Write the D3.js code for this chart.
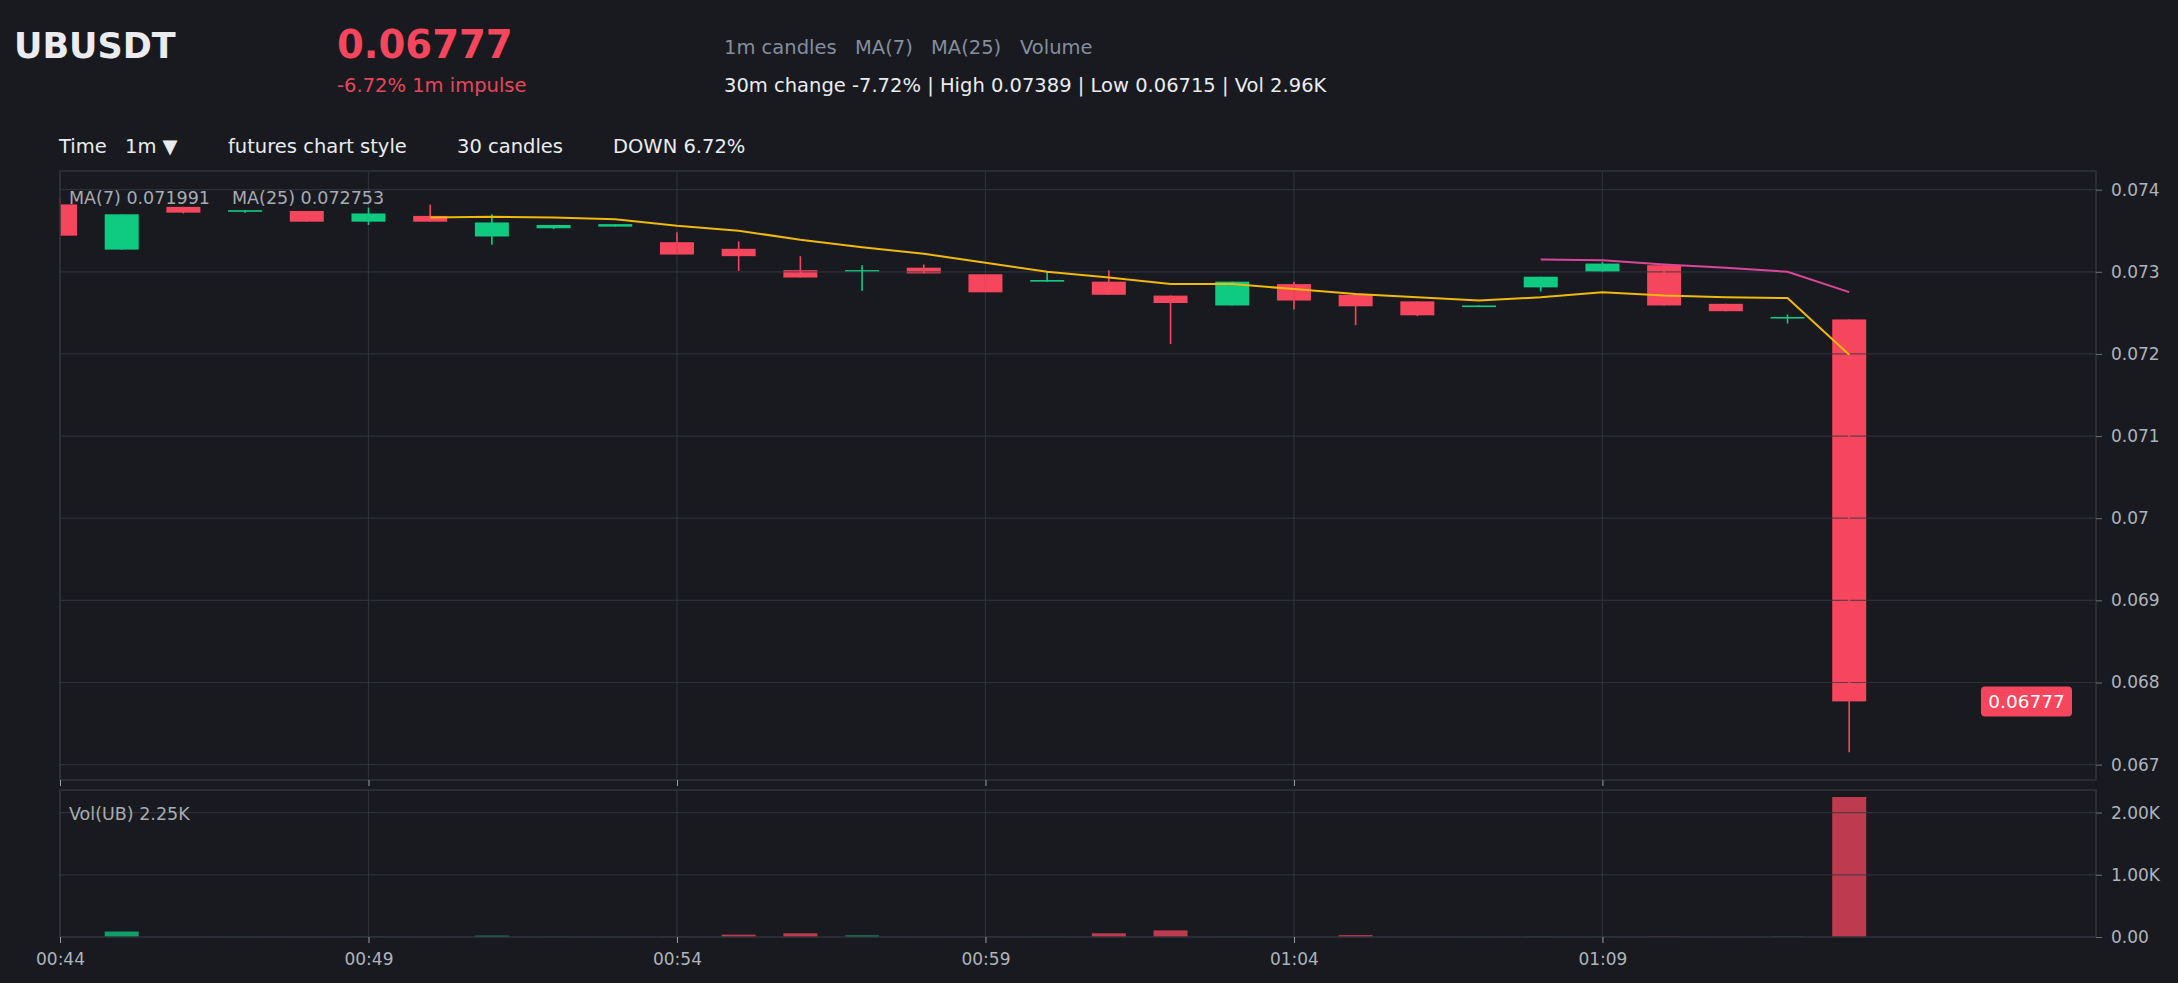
<!DOCTYPE html>
<html>
<head>
<meta charset="utf-8">
<title>UBUSDT 1m</title>
<script src="https://cdn.jsdelivr.net/npm/d3@7"></script>
<style>
  html, body { margin: 0; padding: 0; background: #181a20; }
  svg { display: block; font-family: "DejaVu Sans", sans-serif; }
</style>
</head>
<body>
<svg id="chart" width="2178" height="983"></svg>
<script>
// 1m candles
var times = ["00:44", "00:45", "00:46", "00:47", "00:48", "00:49", "00:50", "00:51", "00:52", "00:53",
             "00:54", "00:55", "00:56", "00:57", "00:58", "00:59", "01:00", "01:01", "01:02", "01:03",
             "01:04", "01:05", "01:06", "01:07", "01:08", "01:09", "01:10", "01:11", "01:12", "01:13"];
var opens  = [0.07382, 0.07327, 0.07379, 0.07373, 0.07374, 0.07361, 0.07368, 0.07343, 0.07353, 0.07355,
              0.07336, 0.07328, 0.07302, 0.07300, 0.07305, 0.07297, 0.07288, 0.07288, 0.07271, 0.07259,
              0.07285, 0.07272, 0.07264, 0.07257, 0.07281, 0.07300, 0.07308, 0.07261, 0.07244, 0.07242];
var highs  = [0.07389, 0.07370, 0.07379, 0.07375, 0.07374, 0.07378, 0.07382, 0.07370, 0.07357, 0.07358,
              0.07348, 0.07337, 0.07319, 0.07308, 0.07309, 0.07297, 0.07300, 0.07302, 0.07271, 0.07288,
              0.07288, 0.07272, 0.07264, 0.07259, 0.07294, 0.07312, 0.07308, 0.07261, 0.07248, 0.07242];
var lows   = [0.07343, 0.07327, 0.07371, 0.07372, 0.07361, 0.07357, 0.07361, 0.07333, 0.07352, 0.07355,
              0.07321, 0.07301, 0.07293, 0.07277, 0.07298, 0.07275, 0.07288, 0.07272, 0.07212, 0.07259,
              0.07254, 0.07235, 0.07246, 0.07257, 0.07276, 0.07300, 0.07259, 0.07252, 0.07237, 0.06715];
var closes = [0.07344, 0.07370, 0.07372, 0.07375, 0.07361, 0.07371, 0.07361, 0.07360, 0.07357, 0.07358,
              0.07321, 0.07319, 0.07293, 0.07302, 0.07298, 0.07275, 0.07290, 0.07272, 0.07262, 0.07288,
              0.07265, 0.07258, 0.07247, 0.07259, 0.07294, 0.07310, 0.07259, 0.07252, 0.07245, 0.06777];
var volumes = [3, 88, 3, 2, 3, 4, 3, 22, 3, 2,
               4, 38, 60, 25, 3, 4, 3, 60, 106, 3,
               2, 30, 3, 2, 4, 3, 6, 3, 6, 2250];

// moving averages as drawn (null where not plotted)
var ma7  = [null, null, null, null, null, null, 0.07366, 0.07367, 0.07366, 0.07364,
            0.07356, 0.07350, 0.07339, 0.07330, 0.07322, 0.07311, 0.07300, 0.07293, 0.07285, 0.07285,
            0.07279, 0.07273, 0.07269, 0.07265, 0.07269, 0.07275, 0.07271, 0.07269, 0.07268, 0.071991];
var ma25 = [null, null, null, null, null, null, null, null, null, null,
            null, null, null, null, null, null, null, null, null, null,
            null, null, null, null, 0.07315, 0.07314, 0.07309, 0.07305, 0.07300, 0.072753];

var priceTicks = [0.067, 0.068, 0.069, 0.07, 0.071, 0.072, 0.073, 0.074];
var volTicks = [0, 1000, 2000];
var volTickLabels = ["0.00", "1.00K", "2.00K"];
var timeTicks = ["00:44", "00:49", "00:54", "00:59", "01:04", "01:09"];

var lastPrice = "0.06777";
var rangeHigh = 0.07389;
var rangeLow = 0.06715;

// colours
var UP = "#0ecb81", DOWN = "#f6465d";
var GRID = "rgba(52,56,64,0.75)";
var TEXT = "#eaecef", MUTED = "#848e9c", AXIS = "#aeb4bc";

var svg = d3.select("#chart");
svg.append("rect").attr("width", 2178).attr("height", 983).attr("fill", "#181a20");

// Pane geometry
var left = 60, right = 2096;
var mainTop = 171, mainBottom = 780;
var volTop = 790, volBottom = 937;

var parseTime = d3.timeParse("%H:%M");
var dates = times.map(parseTime);

var x = d3.scaleTime()
    .domain([dates[0], d3.timeMinute.offset(dates[dates.length - 1], 4)])
    .range([left, right]);

var pad = (rangeHigh - rangeLow) * 0.05;
var y = d3.scaleLinear()
    .domain([rangeLow - pad, rangeHigh + pad])
    .range([mainBottom, mainTop]);

var yVol = d3.scaleLinear()
    .domain([0, d3.max(volumes) * 1.05])
    .range([volBottom, volTop]);

var candleW = 34;

// clip paths so the first candle is cut at the pane edge
var defs = svg.append("defs");
defs.append("clipPath").attr("id", "clipMain").append("rect")
    .attr("x", left).attr("y", mainTop).attr("width", right - left).attr("height", mainBottom - mainTop);
defs.append("clipPath").attr("id", "clipVol").append("rect")
    .attr("x", left).attr("y", volTop).attr("width", right - left).attr("height", volBottom - volTop);

var candles = times.map(function(t, i) {
  return { date: dates[i], o: opens[i], h: highs[i], l: lows[i], c: closes[i], v: volumes[i] };
});

// ---- main pane ----
var main = svg.append("g").attr("clip-path", "url(#clipMain)");

main.selectAll("rect.body")
  .data(candles)
  .enter().append("rect")
    .attr("class", "body")
    .attr("x", function(d) { return x(d.date) - candleW / 2; })
    .attr("y", function(d) { return y(Math.max(d.o, d.c)); })
    .attr("width", candleW)
    .attr("height", function(d) { return Math.max(1.6, Math.abs(y(d.o) - y(d.c))); })
    .attr("fill", function(d) { return d.c >= d.o ? UP : DOWN; });

// grid sits on top of the bodies, like the reference
var grid = svg.append("g");
grid.selectAll("line.hgrid")
  .data(priceTicks)
  .enter().append("line")
    .attr("x1", left).attr("x2", right)
    .attr("y1", function(d) { return y(d); }).attr("y2", function(d) { return y(d); })
    .attr("stroke", GRID).attr("stroke-width", 1.2);

var tickDates = timeTicks.map(parseTime);
grid.selectAll("line.vgrid")
  .data(tickDates)
  .enter().append("line")
    .attr("x1", function(d) { return x(d); }).attr("x2", function(d) { return x(d); })
    .attr("y1", mainTop).attr("y2", mainBottom)
    .attr("stroke", GRID).attr("stroke-width", 1.2);

var main2 = svg.append("g").attr("clip-path", "url(#clipMain)");
main2.selectAll("line.wick")
  .data(candles)
  .enter().append("line")
    .attr("x1", function(d) { return x(d.date); }).attr("x2", function(d) { return x(d.date); })
    .attr("y1", function(d) { return y(d.h); }).attr("y2", function(d) { return y(d.l); })
    .attr("stroke", function(d) { return d.c >= d.o ? UP : DOWN; })
    .attr("stroke-width", 1.6);

// moving average lines
function maLine(values) {
  return d3.line()
    .defined(function(d) { return d != null; })
    .x(function(d, i) { return x(dates[i]); })
    .y(function(d) { return y(d); })(values);
}
main2.append("path").attr("d", maLine(ma7))
    .attr("fill", "none").attr("stroke", "#f0b90b").attr("stroke-width", 2);
main2.append("path").attr("d", maLine(ma25))
    .attr("fill", "none").attr("stroke", "#d9479b").attr("stroke-width", 2);

// pane border
svg.append("rect")
    .attr("x", left).attr("y", mainTop).attr("width", right - left).attr("height", mainBottom - mainTop)
    .attr("fill", "none").attr("stroke", "#2f333b").attr("stroke-width", 1.5);

// price axis
var yAxis = d3.axisRight(y)
    .tickValues(priceTicks)
    .tickFormat(function(d) { return String(d); })
    .tickSize(6).tickPadding(9);
var yAxisG = svg.append("g").attr("transform", "translate(" + right + ",0)").call(yAxis);
yAxisG.select(".domain").remove();
yAxisG.selectAll("line").attr("stroke", "#6b717a");
yAxisG.selectAll("text").attr("fill", AXIS).attr("font-size", 17)
    .attr("font-family", "DejaVu Sans, sans-serif");

// ticks under the main pane
var xTicksMain = d3.axisBottom(x).tickValues(tickDates).tickSize(6).tickFormat("");
var xtm = svg.append("g").attr("transform", "translate(0," + mainBottom + ")").call(xTicksMain);
xtm.select(".domain").remove();
xtm.selectAll("line").attr("stroke", "#9aa0a8");

// MA legend
svg.append("text").attr("x", 69).attr("y", 204)
    .attr("fill", "#a7abb2").attr("font-size", 17.5)
    .text("MA(7) " + ma7[ma7.length - 1]);
svg.append("text").attr("x", 232).attr("y", 204)
    .attr("fill", "#a7abb2").attr("font-size", 17.5)
    .text("MA(25) " + ma25[ma25.length - 1]);

// last price tag
var lastY = y(closes[closes.length - 1]);
svg.append("rect")
    .attr("x", 1981).attr("y", lastY - 15).attr("width", 91).attr("height", 30).attr("rx", 4)
    .attr("fill", DOWN);
svg.append("text")
    .attr("x", 2026.5).attr("y", lastY)
    .attr("dy", "0.35em").attr("text-anchor", "middle")
    .attr("fill", "#ffffff").attr("font-size", 18.5)
    .text(lastPrice);

// ---- volume pane ----
var vol = svg.append("g").attr("clip-path", "url(#clipVol)");
vol.selectAll("rect.vol")
  .data(candles)
  .enter().append("rect")
    .attr("x", function(d) { return x(d.date) - candleW / 2; })
    .attr("y", function(d) { return yVol(d.v); })
    .attr("width", candleW)
    .attr("height", function(d) { return volBottom - yVol(d.v); })
    .attr("fill", function(d) { return d.c >= d.o ? UP : DOWN; })
    .attr("fill-opacity", 0.75);

var volGrid = svg.append("g");
volGrid.selectAll("line.vh")
  .data(volTicks.slice(1))
  .enter().append("line")
    .attr("x1", left).attr("x2", right)
    .attr("y1", function(d) { return yVol(d); }).attr("y2", function(d) { return yVol(d); })
    .attr("stroke", GRID).attr("stroke-width", 1.2);
volGrid.selectAll("line.vv")
  .data(tickDates)
  .enter().append("line")
    .attr("x1", function(d) { return x(d); }).attr("x2", function(d) { return x(d); })
    .attr("y1", volTop).attr("y2", volBottom)
    .attr("stroke", GRID).attr("stroke-width", 1.2);

svg.append("rect")
    .attr("x", left).attr("y", volTop).attr("width", right - left).attr("height", volBottom - volTop)
    .attr("fill", "none").attr("stroke", "#2f333b").attr("stroke-width", 1.5);

var yVolAxis = d3.axisRight(yVol)
    .tickValues(volTicks)
    .tickFormat(function(d, i) { return volTickLabels[i]; })
    .tickSize(6).tickPadding(9);
var yvG = svg.append("g").attr("transform", "translate(" + right + ",0)").call(yVolAxis);
yvG.select(".domain").remove();
yvG.selectAll("line").attr("stroke", "#6b717a");
yvG.selectAll("text").attr("fill", AXIS).attr("font-size", 17)
    .attr("font-family", "DejaVu Sans, sans-serif");

svg.append("text").attr("x", 69).attr("y", 820)
    .attr("fill", "#a7abb2").attr("font-size", 17.5)
    .text("Vol(UB) 2.25K");

// time axis
var xAxis = d3.axisBottom(x)
    .tickValues(tickDates)
    .tickFormat(d3.timeFormat("%H:%M"))
    .tickSize(6).tickPadding(10);
var xG = svg.append("g").attr("transform", "translate(0," + volBottom + ")").call(xAxis);
xG.select(".domain").remove();
xG.selectAll("line").attr("stroke", "#9aa0a8");
xG.selectAll("text").attr("fill", AXIS).attr("font-size", 17)
    .attr("font-family", "DejaVu Sans, sans-serif");

// ---- header ----
svg.append("text").attr("x", 14).attr("y", 58)
    .attr("fill", TEXT).attr("font-size", 35).attr("font-weight", "bold")
    .text("UBUSDT");
svg.append("text").attr("x", 337).attr("y", 58)
    .attr("fill", DOWN).attr("font-size", 38.6).attr("font-weight", "bold")
    .text(lastPrice);
svg.append("text").attr("x", 337).attr("y", 91.5)
    .attr("fill", "#e8455b").attr("font-size", 19.5)
    .text("-6.72% 1m impulse");

var legendItems = [["1m candles", 724], ["MA(7)", 855], ["MA(25)", 931], ["Volume", 1020]];
svg.selectAll("text.leg")
  .data(legendItems)
  .enter().append("text")
    .attr("x", function(d) { return d[1]; }).attr("y", 53.5)
    .attr("fill", MUTED).attr("font-size", 19.5)
    .text(function(d) { return d[0]; });

svg.append("text").attr("x", 724).attr("y", 91.5)
    .attr("fill", TEXT).attr("font-size", 19.5)
    .text("30m change -7.72% | High 0.07389 | Low 0.06715 | Vol 2.96K");

// toolbar row
var toolbar = [["Time", 59], ["1m \u25BC", 125], ["futures chart style", 228], ["30 candles", 457], ["DOWN 6.72%", 613]];
svg.selectAll("text.tool")
  .data(toolbar)
  .enter().append("text")
    .attr("x", function(d) { return d[1]; }).attr("y", 152.5)
    .attr("fill", TEXT).attr("font-size", 19.5)
    .text(function(d) { return d[0]; });
</script>
</body>
</html>
